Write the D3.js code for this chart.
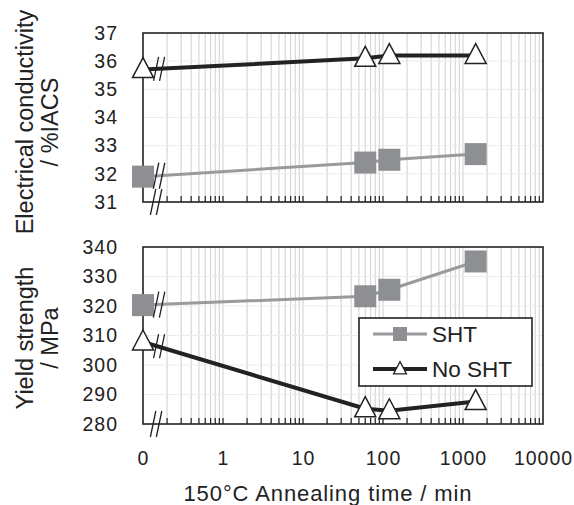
<!DOCTYPE html>
<html>
<head>
<meta charset="utf-8">
<script src="https://cdn.jsdelivr.net/npm/d3@7"></script>
<style>
  body { margin: 0; background: #fff; }
  text { font-family: "Liberation Sans", Arial, sans-serif; fill: #222; }
</style>
</head>
<body>
<svg id="chart" width="574" height="505"></svg>
<script>
// annealing time in min (0 is drawn at the left end of the log axis)
const times = [0, 60, 120, 1440];
const condSHT = [31.9, 32.4, 32.5, 32.7];
const condNoSHT = [35.7, 36.1, 36.2, 36.2];
const ysSHT = [320.3, 323.3, 325.5, 335.1];
const ysNoSHT = [307.8, 285.2, 284.5, 287.6];

const xTickValues = [0.1, 1, 10, 100, 1000, 10000];
const xTickLabels = ['0', '1', '10', '100', '1000', '10000'];
const condTicks = [31, 32, 33, 34, 35, 36, 37];
const ysTicks = [280, 290, 300, 310, 320, 330, 340];

const svg = d3.select('#chart');
const left = 143, right = 543;
const zeroAt = 0.1;   // where t = 0 is drawn
const breakAt = 0.15; // where the axis break is drawn
const font = '"Liberation Sans", Arial, sans-serif';

const x = d3.scaleLog().domain([0.1, 10000]).range([left, right]);
const xt = t => x(t === 0 ? zeroAt : t);

// minor values 0.2 .. 10000
const minorVals = [];
for (let e = -1; e < 4; e++)
    for (let m = 2; m <= 10; m++) minorVals.push(m * Math.pow(10, e));

const panels = [
    {
        top: 33, bottom: 202, domain: [31, 37], ticks: condTicks,
        title: ['Electrical conductivity', '/ %IACS'], titleY: 122,
        sht: condSHT, nosht: condNoSHT
    },
    {
        top: 247, bottom: 424, domain: [280, 340], ticks: ysTicks,
        title: ['Yield strength', '/ MPa'], titleY: 338,
        sht: ysSHT, nosht: ysNoSHT
    }
];

const sqSize = 22;
const triPath = (cx, cy, w) => {
    const h = w * 0.95;
    return `M${cx},${cy - h * 0.6}L${cx + w / 2},${cy + h * 0.4}L${cx - w / 2},${cy + h * 0.4}Z`;
};

function breakMark(g, cx, cy, half) {
    const dx = half * 0.21;
    [-3, 3].forEach(off => {
        g.append('line')
            .attr('x1', cx + off - dx).attr('y1', cy + half)
            .attr('x2', cx + off + dx).attr('y2', cy - half)
            .attr('stroke', '#222').attr('stroke-width', 1.3);
    });
}

panels.forEach(p => {
    const y = d3.scaleLinear().domain(p.domain).range([p.bottom, p.top]);
    const g = svg.append('g');

    // grid
    g.selectAll('.vgrid')
        .data(minorVals.filter(v => v < 10000))
        .enter()
        .append('line')
        .attr('x1', d => x(d)).attr('x2', d => x(d))
        .attr('y1', p.top).attr('y2', p.bottom)
        .attr('stroke', '#d6d6d6').attr('stroke-width', 1.2);
    g.selectAll('.hgrid')
        .data(p.ticks.slice(1, -1))
        .enter()
        .append('line')
        .attr('x1', left).attr('x2', right)
        .attr('y1', d => y(d)).attr('y2', d => y(d))
        .attr('stroke', '#ebebeb').attr('stroke-width', 1);

    // inward minor ticks on the bottom edge
    g.selectAll('.xtick')
        .data(minorVals.filter(v => v < 10000))
        .enter()
        .append('line')
        .attr('x1', d => x(d)).attr('x2', d => x(d))
        .attr('y1', p.bottom).attr('y2', p.bottom - 6)
        .attr('stroke', '#222').attr('stroke-width', 1.2);

    // frame
    g.append('rect')
        .attr('x', left).attr('y', p.top)
        .attr('width', right - left).attr('height', p.bottom - p.top)
        .attr('fill', 'none').attr('stroke', '#222').attr('stroke-width', 1.6);

    // y tick labels
    const yAxis = d3.axisLeft(y).tickValues(p.ticks).tickFormat(d3.format('d'))
        .tickSize(0).tickPadding(25);
    g.append('g')
        .attr('transform', `translate(${left},0)`)
        .call(yAxis)
        .call(a => a.select('.domain').remove())
        .call(a => a.selectAll('text')
            .attr('font-size', 19.5)
            .attr('letter-spacing', 1)
            .attr('font-family', font)
            .attr('fill', '#222'));

    // y title
    p.title.forEach((t, i) => {
        g.append('text')
            .attr('transform', `translate(${33 + i * 25},${p.titleY}) rotate(-90)`)
            .attr('text-anchor', 'middle')
            .attr('font-size', 23.5)
            .text(t);
    });

    // series
    const line = d3.line().x((d, i) => xt(times[i])).y(d => y(d));
    g.append('path').datum(p.sht)
        .attr('d', line).attr('fill', 'none')
        .attr('stroke', '#999a9e').attr('stroke-width', 3);
    g.append('path').datum(p.nosht)
        .attr('d', line).attr('fill', 'none')
        .attr('stroke', '#222').attr('stroke-width', 4);

    g.selectAll('.sq')
        .data(p.sht)
        .enter()
        .append('rect')
        .attr('x', (d, i) => xt(times[i]) - sqSize / 2)
        .attr('y', d => y(d) - sqSize / 2)
        .attr('width', sqSize).attr('height', sqSize)
        .attr('fill', '#8e8f93');
    g.selectAll('.tri')
        .data(p.nosht)
        .enter()
        .append('path')
        .attr('d', (d, i) => triPath(xt(times[i]), y(d), 21))
        .attr('fill', '#fff').attr('stroke', '#222').attr('stroke-width', 1.5);

    // break marks on the series and the axis
    const bx = x(breakAt);
    const yLine = sArr => y(sArr[0]) + (y(sArr[1]) - y(sArr[0])) * (bx - xt(times[0])) / (xt(times[1]) - xt(times[0]));
    breakMark(g, bx + 2, yLine(p.sht), 13);
    breakMark(g, bx + 2, yLine(p.nosht), 12);
    breakMark(g, bx - 1, p.bottom, 13);
});

// x tick labels
const xAxis = d3.axisBottom(x).tickValues(xTickValues)
    .tickFormat((d, i) => xTickLabels[i]).tickSize(0).tickPadding(27);
svg.append('g')
    .attr('transform', `translate(0,${panels[1].bottom})`)
    .call(xAxis)
    .call(a => a.select('.domain').remove())
    .call(a => a.selectAll('text')
        .attr('font-size', 19.5)
        .attr('letter-spacing', 1)
        .attr('font-family', font)
        .attr('fill', '#222'));

svg.append('text')
    .attr('x', 328).attr('y', 501)
    .attr('text-anchor', 'middle')
    .attr('font-size', 22)
    .attr('letter-spacing', 0.9)
    .text('150°C Annealing time / min');

// legend
const lg = svg.append('g').attr('transform', 'translate(359,318)');
lg.append('rect').attr('width', 173).attr('height', 68)
    .attr('fill', '#fff').attr('stroke', '#222').attr('stroke-width', 1.6);
lg.append('line').attr('x1', 14).attr('x2', 68).attr('y1', 16).attr('y2', 16)
    .attr('stroke', '#999a9e').attr('stroke-width', 3);
lg.append('rect').attr('x', 34).attr('y', 9).attr('width', 14).attr('height', 14)
    .attr('fill', '#8e8f93');
lg.append('line').attr('x1', 14).attr('x2', 68).attr('y1', 51).attr('y2', 51)
    .attr('stroke', '#222').attr('stroke-width', 4);
lg.append('path').attr('d', triPath(41, 51, 13))
    .attr('fill', '#fff').attr('stroke', '#222').attr('stroke-width', 1.3);
lg.append('text').attr('x', 73).attr('y', 24).attr('font-size', 22.5).text('SHT');
lg.append('text').attr('x', 73).attr('y', 59).attr('font-size', 22.5).text('No SHT');
</script>
</body>
</html>
